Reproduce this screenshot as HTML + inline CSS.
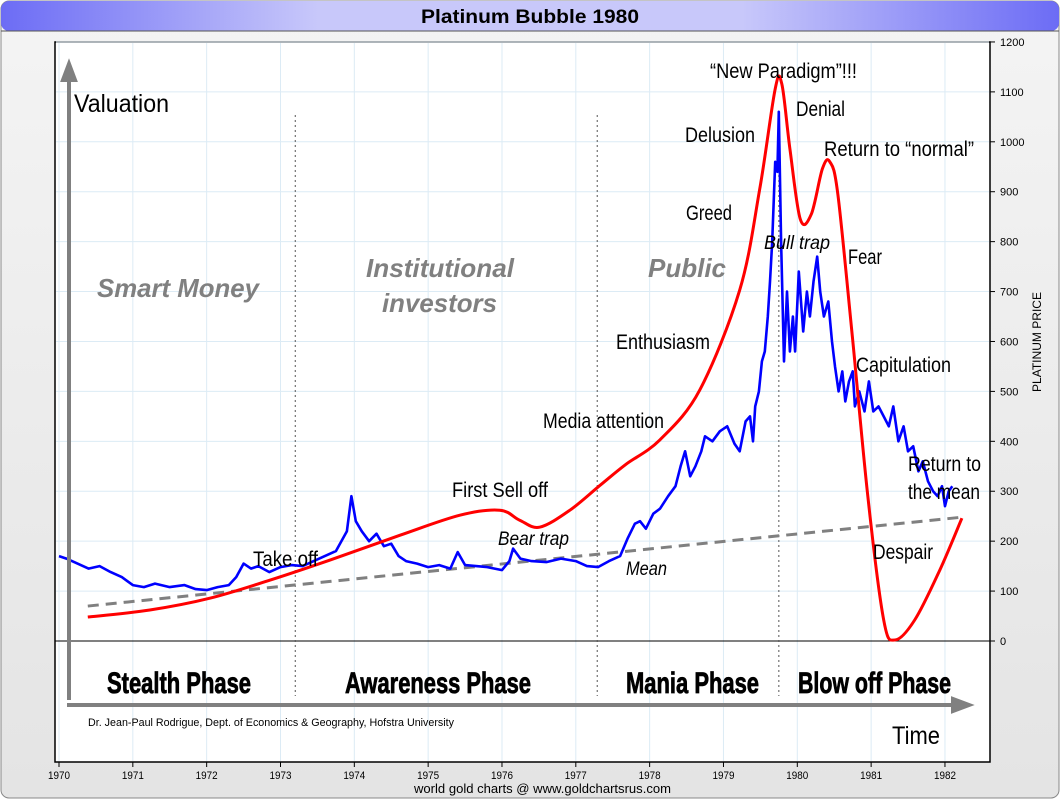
<!DOCTYPE html>
<html><head><meta charset="utf-8">
<style>
html,body{margin:0;padding:0;background:#fff}
#wrap{position:relative;width:1060px;height:800px;overflow:hidden;font-family:"Liberation Sans",sans-serif}
svg text{font-family:"Liberation Sans",sans-serif}
</style></head>
<body>
<div id="wrap">
<svg id="chart" width="1060" height="800" viewBox="0 0 1060 800">
<defs>
<linearGradient id="tg" x1="0" x2="1" y1="0" y2="0">
<stop offset="0" stop-color="#6c6cf5"/><stop offset="0.3" stop-color="#c8c8fa"/><stop offset="0.7" stop-color="#c8c8fa"/><stop offset="1" stop-color="#6c6cf5"/>
</linearGradient>
<linearGradient id="bg" x1="0" x2="0" y1="0" y2="1">
<stop offset="0" stop-color="#f4f4f4"/><stop offset="1" stop-color="#e4e4e4"/>
</linearGradient>
</defs>
<rect x="1" y="1" width="1058" height="797" rx="8" fill="url(#bg)" stroke="#888"/>
<rect x="1" y="1" width="1058" height="30" rx="8" fill="url(#tg)"/>
<line x1="1" y1="31" x2="1059" y2="31" stroke="#555"/>
<text x="530" y="23" text-anchor="middle" font-size="19" font-weight="bold" textLength="218" lengthAdjust="spacingAndGlyphs">Platinum Bubble 1980</text>
<rect x="55" y="42" width="935" height="720" fill="#fff" stroke="#000" stroke-width="1.5"/>
<g id="grid"></g>
<g id="axes"></g>
<g id="marks"></g>
<g id="labels"></g>
</svg>
</div>
<script>
const yearTicks=[1970,1971,1972,1973,1974,1975,1976,1977,1978,1979,1980,1981,1982];
const priceTicks=[0,100,200,300,400,500,600,700,800,900,1000,1100,1200];
const priceYears=[1970.0,1970.1,1970.25,1970.4,1970.55,1970.7,1970.85,1971.0,1971.15,1971.3,1971.5,1971.7,1971.85,1972.0,1972.15,1972.3,1972.4,1972.5,1972.6,1972.7,1972.85,1973.0,1973.15,1973.3,1973.45,1973.6,1973.75,1973.9,1973.96,1974.02,1974.1,1974.2,1974.3,1974.4,1974.5,1974.6,1974.7,1974.85,1975.0,1975.15,1975.3,1975.4,1975.5,1975.65,1975.8,1976.0,1976.1,1976.15,1976.25,1976.4,1976.6,1976.8,1977.0,1977.15,1977.3,1977.45,1977.6,1977.7,1977.8,1977.87,1977.95,1978.05,1978.14,1978.25,1978.35,1978.42,1978.48,1978.55,1978.62,1978.7,1978.75,1978.85,1978.95,1979.05,1979.15,1979.22,1979.3,1979.36,1979.4,1979.43,1979.48,1979.52,1979.56,1979.6,1979.63,1979.66,1979.7,1979.73,1979.75,1979.78,1979.82,1979.86,1979.9,1979.94,1979.97,1980.02,1980.08,1980.13,1980.17,1980.22,1980.27,1980.31,1980.36,1980.42,1980.47,1980.51,1980.56,1980.61,1980.65,1980.7,1980.75,1980.78,1980.84,1980.91,1980.97,1981.03,1981.1,1981.17,1981.24,1981.3,1981.37,1981.44,1981.5,1981.57,1981.64,1981.7,1981.77,1981.84,1981.9,1981.96,1982.0,1982.05,1982.1];
const priceValues=[170,165,155,145,150,138,128,112,108,115,108,112,104,102,108,112,128,155,145,150,138,148,152,150,160,170,180,220,290,240,220,200,215,190,195,170,160,155,148,152,145,178,152,150,148,142,160,185,165,160,158,165,160,150,148,160,170,205,235,240,225,255,265,290,310,350,380,330,350,380,410,400,420,430,395,380,440,450,400,470,500,560,580,650,720,800,960,940,1060,800,560,700,580,650,580,740,620,700,650,720,770,700,650,680,600,550,500,540,480,520,540,470,500,460,520,460,470,450,430,470,400,430,380,390,340,360,320,300,290,310,270,300,310];
const bubbleYears=[1970.39,1971.23,1972.05,1972.86,1973.67,1974.62,1975.43,1975.97,1976.24,1976.51,1976.92,1977.33,1977.67,1978.14,1978.68,1979.22,1979.49,1979.70,1979.79,1979.90,1980.04,1980.19,1980.34,1980.44,1980.55,1980.75,1980.96,1981.17,1981.32,1981.59,1981.93,1982.23];
const bubbleValues=[48,62,86,122,162,212,252,262,242,228,262,312,353,403,503,703,904,1106,1116,986,845,855,946,960,894,603,283,42,2,42,142,246];
const meanYears=[1970.39,1982.23];
const meanValues=[70,248];

const X=y=>59+(y-1970)*73.83;
const Y=p=>641-p*0.4992;
const NS='http://www.w3.org/2000/svg';
function mk(tag,attrs,parent,txt){const e=document.createElementNS(NS,tag);for(const k in attrs)e.setAttribute(k,attrs[k]);if(txt!==undefined)e.textContent=txt;parent.appendChild(e);return e;}
const grid=document.getElementById('grid'),axes=document.getElementById('axes'),marks=document.getElementById('marks'),labels=document.getElementById('labels');

yearTicks.forEach(yr=>{
  const x=X(yr);
  const g=mk('line',{x1:x,y1:43,x2:x,y2:761,stroke:'#dcebf5','stroke-width':1},grid);
  
  
  mk('line',{x1:x,y1:762,x2:x,y2:767,stroke:'#000'},axes);
  const t=mk('text',{x:x,y:779,'text-anchor':'middle','font-size':11,textLength:22,lengthAdjust:'spacingAndGlyphs'},axes,String(yr));
  
  
});
priceTicks.forEach(p=>{
  const y=Y(p);
  const g=mk('line',{x1:56,y1:y,x2:989,y2:y,stroke:'#dcebf5','stroke-width':1},grid);
  
  
  mk('line',{x1:990,y1:y,x2:995,y2:y,stroke:'#000'},axes);
  const t=mk('text',{x:1000,y:y+4,'font-size':11},axes,String(p));
  
  
});
const zl=mk('line',{x1:55,y1:Y(0),x2:990,y2:Y(0),stroke:'#000','stroke-width':1},axes);



[1973.2,1977.29,1979.75].forEach(yr=>{
  const l=mk('line',{x1:X(yr),y1:115,x2:X(yr),y2:696,stroke:'#555','stroke-width':1,'stroke-dasharray':'2,3'},marks);
  
  
});

const ml=mk('line',{x1:X(meanYears[0]),y1:Y(meanValues[0]),x2:X(meanYears[1]),y2:Y(meanValues[1]),stroke:'#808080','stroke-width':3,'stroke-dasharray':'11,7'},marks);



let d='';
priceYears.forEach((yr,i)=>{d+=(i?'L':'M')+X(yr).toFixed(1)+','+Y(priceValues[i]).toFixed(1);});
const pl=mk('path',{d:d,fill:'none',stroke:'#0000ff','stroke-width':2.6,'stroke-linejoin':'round'},marks);



const pts=bubbleYears.map((yr,i)=>[X(yr),Y(bubbleValues[i])]);
let bd='M'+pts[0][0]+','+pts[0][1];
for(let i=0;i<pts.length-1;i++){
  const p0=pts[Math.max(0,i-1)],p1=pts[i],p2=pts[i+1],p3=pts[Math.min(pts.length-1,i+2)];
  const c1=[p1[0]+(p2[0]-p0[0])/6,p1[1]+(p2[1]-p0[1])/6];
  const c2=[p2[0]-(p3[0]-p1[0])/6,p2[1]-(p3[1]-p1[1])/6];
  bd+='C'+c1[0].toFixed(1)+','+c1[1].toFixed(1)+' '+c2[0].toFixed(1)+','+c2[1].toFixed(1)+' '+p2[0].toFixed(1)+','+p2[1].toFixed(1);
}
const bl=mk('path',{d:bd,fill:'none',stroke:'#ff0000','stroke-width':3},marks);



const va=mk('path',{d:'M69,700 L69,78 M63,80 L69,64 L75,80 Z',stroke:'#808080','stroke-width':4,fill:'#808080'},marks);


const ha=mk('path',{d:'M67,705 L955,705 M953,699 L969,705 L953,711 Z',stroke:'#808080','stroke-width':4,fill:'#808080'},marks);



function lab(name,x,y,txt,size,w,opt){
  opt=opt||{};
  const a={x:x,y:y,'font-size':size,fill:opt.fill||'#000','font-weight':opt.bold?'bold':'normal','font-style':opt.italic?'italic':'normal','text-anchor':opt.anchor||'start'};
  if(w){a.textLength=w;a.lengthAdjust='spacingAndGlyphs';}
  const t=mk('text',a,labels,txt);
  if(opt.stroke){t.setAttribute('stroke','#000');t.setAttribute('stroke-width',opt.stroke);}
  
  
}
lab('valuation-label',74,112,'Valuation',25,95);
lab('time-label',892,744,'Time',25,48);
lab('credit-label',88,726,'Dr. Jean-Paul Rodrigue, Dept. of Economics & Geography, Hofstra University',11,366);
lab('source-label',414,793,'world gold charts @ www.goldchartsrus.com',13,257);
const yt=mk('text',{x:1041,y:342,'font-size':12,'text-anchor':'middle',transform:'rotate(-90 1041 342)',textLength:100,lengthAdjust:'spacingAndGlyphs'},labels,'PLATINUM PRICE');


const grey={fill:'#808080',bold:true,italic:true};
lab('smart-money-label',97,297,'Smart Money',26,162,grey);
lab('institutional-label',366,277,'Institutional',26,148,grey);
lab('investors-label',382,312,'investors',26,115,grey);
lab('public-label',648,277,'Public',26,78,grey);
const ph={bold:true,stroke:0.8};
lab('stealth-phase',107,693,'Stealth Phase',30,144,ph);
lab('awareness-phase',345,693,'Awareness Phase',30,186,ph);
lab('mania-phase',626,693,'Mania Phase',30,133,ph);
lab('blowoff-phase',798,693,'Blow off Phase',30,153,ph);
lab('new-paradigm-label',710,78,'\u201cNew Paradigm\u201d!!!',21,147);
lab('denial-label',796,116,'Denial',21,49);
lab('delusion-label',685,142,'Delusion',21,70);
lab('return-normal-label',824,156,'Return to \u201cnormal\u201d',21,150);
lab('greed-label',686,220,'Greed',21,46);
lab('bull-trap-label',764,249,'Bull trap',19,66,{italic:true});
lab('fear-label',848,264,'Fear',21,34);
lab('enthusiasm-label',616,349,'Enthusiasm',21,94);
lab('capitulation-label',856,372,'Capitulation',21,95);
lab('media-attention-label',543,428,'Media attention',21,121);
lab('return-mean-label-1',908,471,'Return to',21,73);
lab('return-mean-label-2',908,499,'the mean',21,72);
lab('first-selloff-label',452,497,'First Sell off',21,96);
lab('bear-trap-label',498,545,'Bear trap',19,71,{italic:true});
lab('take-off-label',253,566,'Take off',21,65);
lab('despair-label',873,559,'Despair',21,60);
lab('mean-label',626,575,'Mean',19,41,{italic:true});
</script>
</body></html>
